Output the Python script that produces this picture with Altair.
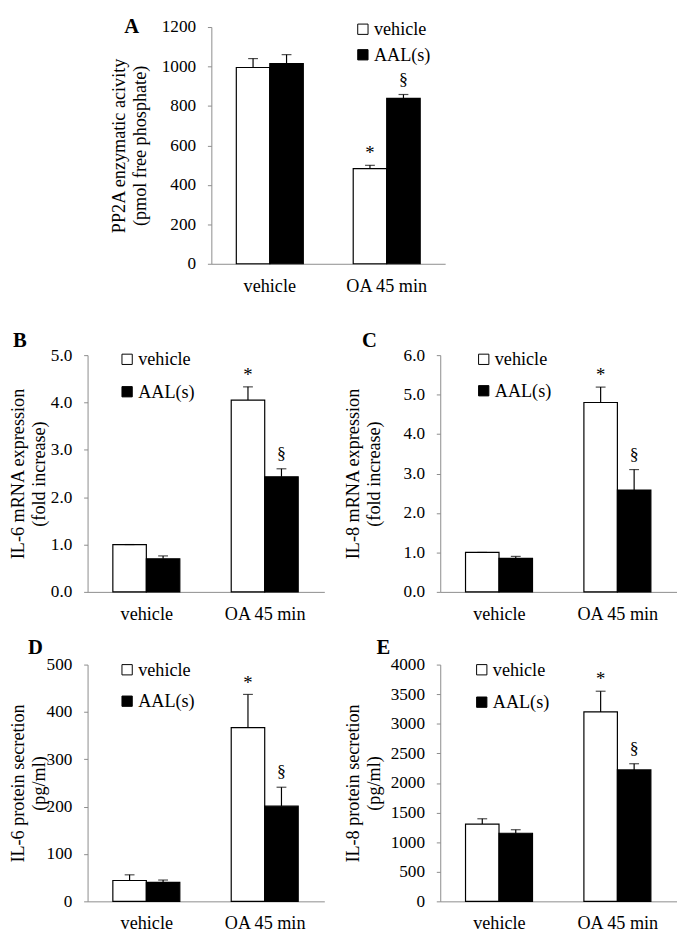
import altair as alt
import pandas as pd

groups = ["vehicle", "OA 45 min"]
treatments = ["vehicle", "AAL(s)"]
sig_marks = ["", "", "*", "§"]

a_mean = [995, 1015, 482, 838]
a_err = [45, 45, 17, 20]
b_mean = [1.00, 0.70, 4.05, 2.43]
b_err = [0.0, 0.06, 0.28, 0.17]
c_mean = [1.00, 0.85, 4.80, 2.58]
c_err = [0.0, 0.05, 0.39, 0.52]
d_mean = [44, 40, 367, 201]
d_err = [12, 5, 70, 40]
e_mean = [1305, 1150, 3200, 2220]
e_err = [90, 60, 350, 105]

a_ticks = [0, 200, 400, 600, 800, 1000, 1200]
b_ticks = [0, 1, 2, 3, 4, 5]
c_ticks = [0, 1, 2, 3, 4, 5, 6]
d_ticks = [0, 100, 200, 300, 400, 500]
e_ticks = [0, 500, 1000, 1500, 2000, 2500, 3000, 3500, 4000]

FONT = "Liberation Serif"
AXIS_GRAY = "#8c8c8c"
H = 241


def panel(means, errs, ticks, fmt, title, letter, letter_xy, legend_xy,
          row_pad, title_x, width):
    df = pd.DataFrame({
        "group": [groups[0], groups[0], groups[1], groups[1]],
        "treatment": treatments * 2,
        "mean": means,
        "err": errs,
        "sig": sig_marks,
    })
    df["top"] = df["mean"] + df["err"]

    x = alt.X("group:N", sort=groups,
              scale=alt.Scale(paddingInner=0.427, paddingOuter=0.2135),
              axis=alt.Axis(title=None, labelAngle=0, ticks=False,
                            labelPadding=13, domainColor=AXIS_GRAY,
                            labelFont=FONT, labelFontSize=18.5,
                            labelColor="black", labelBaseline="top"))
    xo = alt.XOffset("treatment:N", sort=treatments,
                     scale=alt.Scale(paddingInner=0, paddingOuter=0))
    yscale = alt.Scale(domain=[ticks[0], ticks[-1]], nice=False)
    yaxis = alt.Axis(title=title, values=ticks, format=fmt, grid=False,
                     domainColor=AXIS_GRAY, tickColor=AXIS_GRAY, tickSize=4,
                     labelPadding=12, labelFont=FONT, labelFontSize=17.5,
                     labelColor="black", titleFont=FONT, titleFontSize=18.5,
                     titleFontWeight="normal", titleColor="black",
                     titleLineHeight=21, titleAngle=-90, titleX=title_x,
                     titleY=H / 2, titleAlign="center", titleBaseline="top")

    base = alt.Chart(df)
    bars = base.mark_bar(stroke="black", strokeWidth=1.2).encode(
        x=x, xOffset=xo,
        y=alt.Y("mean:Q", scale=yscale, axis=yaxis),
        fill=alt.Fill("treatment:N", sort=treatments,
                      scale=alt.Scale(domain=treatments, range=["white", "black"]),
                      legend=alt.Legend(orient="none", legendX=legend_xy[0],
                                        legendY=legend_xy[1], title=None,
                                        symbolType="square", symbolSize=110,
                                        symbolStrokeColor="black",
                                        symbolStrokeWidth=1,
                                        labelFont=FONT, labelFontSize=18.5,
                                        labelColor="black", labelOffset=2,
                                        rowPadding=row_pad, padding=0)),
    )
    rule = base.mark_rule(color="black", strokeWidth=1.2).encode(
        x=x, xOffset=xo,
        y=alt.Y("mean:Q", scale=yscale, axis=yaxis), y2="top:Q")
    cap = base.mark_tick(color="black", thickness=1.2, size=10).encode(
        x=x, xOffset=xo, y=alt.Y("top:Q", scale=yscale, axis=yaxis))
    star = base.transform_filter(alt.datum.sig == "*").mark_text(
        font=FONT, fontSize=19, baseline="middle", dy=-12, color="black").encode(
        x=x, xOffset=xo, y=alt.Y("top:Q", scale=yscale, axis=yaxis), text="sig:N")
    sect = base.transform_filter(alt.datum.sig == "§").mark_text(
        font=FONT, fontSize=18, baseline="middle", dy=-15, color="black").encode(
        x=x, xOffset=xo, y=alt.Y("top:Q", scale=yscale, axis=yaxis), text="sig:N")
    lab = alt.Chart(pd.DataFrame({"t": [letter]})).mark_text(
        font=FONT, fontSize=21, fontWeight="bold", baseline="middle",
        align="center", color="black").encode(
        x=alt.value(letter_xy[0]), y=alt.value(letter_xy[1]), text="t:N")
    return alt.layer(bars, rule, cap, star, sect, lab).properties(
        width=width, height=H)


pA = panel(a_mean, a_err, a_ticks, "d",
           ["PP2A enzymatic acivity", "(pmol free phosphate)"], "A",
           (-81, 0), (145, -7), 7, -103, 238)
pB = panel(b_mean, b_err, b_ticks, ".1f",
           ["IL-6 mRNA expression", "(fold increase)"], "B",
           (-69, -14), (31, -5), 14, -80, 241)
pC = panel(c_mean, c_err, c_ticks, ".1f",
           ["IL-8 mRNA expression", "(fold increase)"], "C",
           (-72, -14), (35, -5), 13, -98, 241)
pD = panel(d_mean, d_err, d_ticks, "d",
           ["IL-6 protein secretion", "(pg/ml)"], "D",
           (-53, -17), (31, -4), 13, -80, 241)
pE = panel(e_mean, e_err, e_ticks, "d",
           ["IL-8 protein secretion", "(pg/ml)"], "E",
           (-58, -17), (33, -4), 14, -98, 241)

# invisible cell that shifts panel A to the right of the lower panels' axes
spacer = alt.Chart(pd.DataFrame({"v": [0]})).mark_point(size=0, opacity=0).encode(
    x=alt.value(0), y=alt.value(0)).properties(width=126, height=H)


def indep(c):
    return c.resolve_scale(fill="independent", x="independent",
                           y="independent").resolve_legend(fill="independent")


row1 = indep(alt.hconcat(spacer, pA, spacing=0, bounds="flush"))
row2 = indep(alt.hconcat(pB, pC, spacing=118, bounds="flush"))
row3 = indep(alt.hconcat(pD, pE, spacing=118, bounds="flush"))
lower = indep(alt.vconcat(row2, row3, spacing=14))
chart = indep(alt.vconcat(row1, lower, spacing=36)).properties(
    padding=0, background="white").configure_view(stroke=None)

chart.save("out.html", embed_options={"renderer": "svg", "actions": False})
